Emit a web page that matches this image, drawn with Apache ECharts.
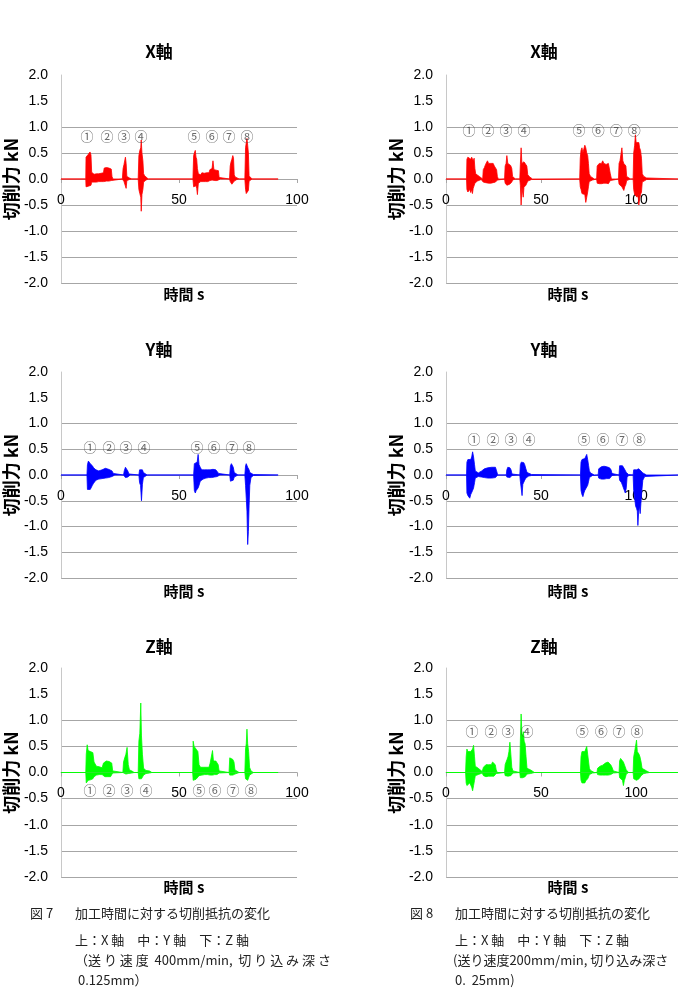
<!DOCTYPE html>
<html>
<head>
<meta charset="utf-8">
<script src="https://cdn.jsdelivr.net/npm/echarts@6/dist/echarts.min.js"></script>
<style>
  html, body { margin: 0; padding: 0; background: #fff; }
  #chart { width: 678px; height: 989px; }
</style>
</head>
<body>
<div id="chart"></div>
<script>
// 切削力の包絡線 [時間 s, 上側 kN, 下側 kN]
// 図7 (左列)
let sigX7 = [
  [0,0,0],[10.5,0,0],[10.6,0.42,-0.15],[11,0.45,-0.16],[11.5,0.47,-0.14],[12,0.48,-0.17],[12.3,0.52,-0.15],[12.7,0.46,-0.12],
  [13,0.13,-0.06],[13.5,0.1,-0.07],[14,0.09,-0.06],[14.5,0.11,-0.08],[15,0.1,-0.06],[15.5,0.12,-0.07],[16,0.1,-0.05],[16.5,0.13,-0.06],
  [17,0.11,-0.05],[17.5,0.14,-0.06],[18,0.12,-0.05],[18.3,0.21,-0.04],[18.8,0.2,-0.03],[19.3,0.22,-0.04],[19.8,0.19,-0.03],[20.3,0.21,-0.04],
  [20.8,0.2,-0.03],[21.3,0.19,-0.03],[21.6,0.05,-0.01],[22,0,0],
  [26,0,0],[26.3,0.2,-0.03],[26.7,0.28,-0.05],[27,0.3,-0.06],[27.3,0.42,-0.05],[27.6,0.3,-0.18],[27.9,0.05,-0.03],[28.5,0.03,-0.02],[29,0.02,-0.01],[30,0,0],
  [32.7,0,0],[33,0.45,-0.2],[33.4,0.55,-0.28],[33.8,0.6,-0.35],[34,0.75,-0.62],[34.3,0.5,-0.3],[34.7,0.35,-0.2],[35,0.1,-0.06],[35.5,0.06,-0.04],[36,0.04,-0.02],[37,0,0],
  [55.9,0,0],[56.2,0.45,-0.15],[56.5,0.5,-0.14],[56.9,0.55,-0.16],[57.2,0.42,-0.13],[57.5,0.38,-0.18],[57.8,0.2,-0.3],[58.2,0.1,-0.08],
  [58.7,0.1,-0.06],[59.2,0.08,-0.05],[59.7,0.12,-0.06],[60.2,0.1,-0.05],[60.7,0.11,-0.04],[61.2,0.09,-0.05],[61.7,0.12,-0.04],[62.2,0.1,-0.05],
  [62.7,0.12,-0.04],[63.1,0.18,-0.03],[63.5,0.17,-0.03],[64,0.2,-0.02],[64.4,0.35,-0.03],[64.8,0.18,-0.02],[65.2,0.19,-0.03],[65.7,0.17,-0.02],
  [66.2,0.18,-0.03],[66.7,0.16,-0.02],[67,0.03,-0.01],[67.5,0,0],
  [71.4,0,0],[71.7,0.25,-0.05],[72,0.32,-0.08],[72.4,0.38,-0.1],[72.8,0.45,-0.1],[73.1,0.4,-0.08],[73.4,0.08,-0.04],[73.8,0.04,-0.02],[74.5,0.02,-0.01],[75.5,0,0],
  [77.9,0,0],[78.2,0.6,-0.2],[78.5,0.7,-0.28],[78.8,0.78,-0.26],[79.1,0.65,-0.3],[79.4,0.5,-0.22],[79.7,0.06,-0.04],[80.2,0.03,-0.02],[81,0,0],
  [92,0,0]
];
let sigY7 = [
  [0,0,0],[11,0,0],[11.2,0.2,-0.28],[11.6,0.27,-0.3],[12,0.25,-0.3],[12.4,0.22,-0.28],[12.8,0.2,-0.25],[13.3,0.18,-0.2],[13.8,0.14,-0.16],
  [14.3,0.12,-0.13],[14.8,0.1,-0.1],[15.3,0.09,-0.09],[16,0.08,-0.08],[16.7,0.09,-0.07],[17.4,0.1,-0.07],[18.1,0.12,-0.06],[18.8,0.13,-0.06],
  [19.5,0.12,-0.05],[20.2,0.11,-0.05],[20.9,0.1,-0.04],[21.6,0.08,-0.03],[22.2,0.03,-0.01],[22.8,0,0],
  [26.5,0,0],[26.8,0.08,-0.03],[27.3,0.15,-0.05],[27.8,0.12,-0.05],[28.3,0.08,-0.04],[28.8,0.02,-0.01],[29.3,0,0],
  [33,0,0],[33.3,0.1,-0.15],[33.7,0.12,-0.2],[34.1,0.13,-0.5],[34.5,0.1,-0.18],[34.9,0.05,-0.05],[35.5,0.02,-0.02],[36.5,0,0],
  [56.2,0,0],[56.5,0.22,-0.3],[56.9,0.25,-0.35],[57.3,0.22,-0.3],[57.7,0.25,-0.28],[58.1,0.4,-0.25],[58.5,0.2,-0.2],[59,0.15,-0.12],
  [59.6,0.1,-0.1],[60.2,0.09,-0.08],[60.8,0.1,-0.07],[61.4,0.09,-0.06],[62,0.1,-0.06],[62.6,0.11,-0.05],[63.2,0.1,-0.05],[63.8,0.12,-0.05],
  [64.4,0.11,-0.04],[65,0.12,-0.04],[65.6,0.1,-0.03],[66.2,0.09,-0.03],[66.8,0.03,-0.01],[67.3,0,0],
  [71.5,0,0],[71.8,0.18,-0.12],[72.2,0.22,-0.15],[72.6,0.2,-0.15],[73,0.15,-0.1],[73.4,0.05,-0.04],[74,0.02,-0.01],[75,0,0],
  [77.9,0,0],[78.2,0.18,-0.2],[78.5,0.22,-0.45],[78.8,0.2,-0.7],[79.1,0.15,-1.35],[79.4,0.12,-1.1],[79.7,0.1,-0.6],[80,0.05,-0.2],[80.5,0.03,-0.05],[81.5,0.01,-0.01],[82,0,0],
  [92,0,0]
];
let sigZ7 = [
  [0,0,0],[10.5,0,0],[10.7,0.35,-0.2],[11.1,0.53,-0.18],[11.5,0.42,-0.15],[12,0.45,-0.16],[12.5,0.4,-0.14],[13,0.42,-0.12],[13.5,0.38,-0.12],
  [14,0.2,-0.08],[14.5,0.21,-0.06],[15,0.12,-0.05],[15.6,0.1,-0.05],[16.2,0.11,-0.04],[16.8,0.1,-0.05],[17.4,0.09,-0.04],[18,0.18,-0.07],
  [18.6,0.2,-0.08],[19.2,0.22,-0.07],[19.8,0.2,-0.08],[20.4,0.21,-0.07],[21,0.2,-0.08],[21.5,0.18,-0.06],[21.9,0.03,-0.01],[22.3,0,0],
  [26.2,0,0],[26.5,0.2,-0.02],[27,0.28,-0.03],[27.5,0.35,-0.03],[28,0.48,-0.03],[28.5,0.15,-0.02],[29,0.05,-0.01],[30,0.03,-0.01],[31,0,0],
  [32.7,0,0],[33,0.6,-0.12],[33.4,0.75,-0.15],[33.8,1.33,-0.15],[34.1,0.7,-0.12],[34.5,0.35,-0.1],[35,0.08,-0.05],[36,0.04,-0.02],[37.5,0.03,-0.01],[38.5,0,0],
  [55.8,0,0],[56,0.6,-0.15],[56.4,0.5,-0.16],[56.8,0.52,-0.15],[57.2,0.45,-0.13],[57.6,0.48,-0.15],[58,0.4,-0.12],[58.5,0.15,-0.06],
  [59.1,0.1,-0.05],[59.7,0.12,-0.05],[60.3,0.1,-0.05],[60.9,0.09,-0.04],[61.5,0.1,-0.05],[62.1,0.08,-0.04],[62.7,0.1,-0.04],[63.2,0.18,-0.05],
  [63.7,0.2,-0.05],[64.2,0.42,-0.05],[64.6,0.22,-0.05],[65.1,0.2,-0.04],[65.6,0.22,-0.05],[66.1,0.2,-0.04],[66.6,0.15,-0.03],[67,0.03,-0.01],[67.5,0,0],
  [71.2,0,0],[71.5,0.28,-0.05],[71.9,0.3,-0.06],[72.3,0.28,-0.05],[72.8,0.25,-0.05],[73.3,0.2,-0.04],[73.7,0.05,-0.03],[74.5,0.03,-0.02],[75.5,0,0],
  [77.9,0,0],[78.2,0.45,-0.12],[78.5,0.55,-0.15],[78.8,0.83,-0.14],[79.1,0.55,-0.15],[79.5,0.4,-0.12],[79.9,0.1,-0.05],[80.5,0.03,-0.02],[81.5,0,0],
  [92,0,0]
];
// 図8 (右列)
let sigX8 = [
  [0,0,0],[10.8,0,0],[11,0.38,-0.2],[11.5,0.42,-0.25],[12,0.4,-0.22],[12.5,0.43,-0.2],[13,0.38,-0.26],[13.5,0.42,-0.2],[13.9,0.4,-0.28],
  [14.3,0.35,-0.18],[14.8,0.4,-0.15],[15.2,0.2,-0.08],[15.6,0.1,-0.05],[16.5,0.08,-0.04],[17.5,0.05,-0.03],[18.5,0.02,-0.01],[19.3,0,0],
  [19.6,0.18,-0.06],[20.2,0.22,-0.08],[20.8,0.28,-0.07],[21.3,0.3,-0.09],[21.8,0.35,-0.08],[22.4,0.3,-0.08],[23,0.33,-0.07],[23.6,0.3,-0.08],
  [24.2,0.27,-0.09],[24.8,0.3,-0.07],[25.4,0.25,-0.08],[26,0.22,-0.06],[26.6,0.18,-0.05],[27,0.05,-0.02],[27.5,0,0],
  [30.8,0,0],[31.1,0.25,-0.08],[31.6,0.3,-0.1],[32,0.45,-0.12],[32.5,0.3,-0.1],[33,0.28,-0.12],[33.5,0.3,-0.1],[34,0.26,-0.08],[34.6,0.2,-0.06],[35,0.05,-0.02],[36,0.02,-0.01],[36.5,0,0],
  [38.8,0,0],[39.1,0.28,-0.12],[39.5,0.6,-0.5],[39.9,0.3,-0.15],[40.3,0.32,-0.14],[40.6,0.3,-0.35],[41,0.33,-0.16],[41.5,0.3,-0.14],[42,0.32,-0.12],
  [42.5,0.25,-0.1],[43,0.08,-0.04],[44,0.04,-0.02],[45,0.02,-0.01],[45.5,0,0],
  [70.3,0,0],[70.6,0.4,-0.15],[71,0.55,-0.2],[71.5,0.6,-0.28],[72,0.5,-0.3],[72.5,0.58,-0.25],[73,0.65,-0.3],[73.5,0.6,-0.45],[74,0.5,-0.35],
  [74.5,0.45,-0.25],[74.9,0.3,-0.15],[75.3,0.1,-0.05],[76,0.05,-0.03],[77,0.03,-0.02],[78,0,0],
  [79.2,0,0],[79.5,0.25,-0.08],[80,0.28,-0.08],[80.6,0.3,-0.09],[81.2,0.28,-0.08],[81.8,0.3,-0.09],[82.4,0.35,-0.08],[83,0.3,-0.08],[83.6,0.32,-0.09],
  [84.2,0.28,-0.08],[84.8,0.3,-0.08],[85.4,0.3,-0.09],[86,0.27,-0.07],[86.4,0.1,-0.03],[87,0,0],
  [90.7,0,0],[91,0.3,-0.1],[91.5,0.35,-0.12],[92,0.33,-0.13],[92.5,0.6,-0.15],[93,0.35,-0.18],[93.5,0.3,-0.22],[94,0.32,-0.15],[94.6,0.25,-0.1],[95,0.05,-0.03],[96,0.02,-0.01],[97,0,0],
  [98.4,0,0],[98.7,0.5,-0.2],[99.2,0.65,-0.3],[99.6,0.85,-0.32],[100,0.7,-0.3],[100.5,0.72,-0.35],[101,0.68,-0.3],[101.4,0.7,-0.5],[101.8,0.6,-0.38],
  [102.3,0.55,-0.3],[102.8,0.4,-0.25],[103.2,0.1,-0.06],[104,0.05,-0.03],[105.5,0.02,-0.01],[106,0,0],
  [122,0,0]
];
let sigY8 = [
  [0,0,0],[10.8,0,0],[11,0.25,-0.35],[11.5,0.3,-0.4],[12,0.28,-0.42],[12.5,0.32,-0.45],[13,0.3,-0.38],[13.5,0.35,-0.35],[14,0.45,-0.3],
  [14.5,0.35,-0.25],[15,0.2,-0.15],[15.4,0.08,-0.06],[16,0.05,-0.04],[17,0.04,-0.03],[18,0.03,-0.02],[18.8,0.08,-0.04],[19.5,0.1,-0.05],
  [20.2,0.12,-0.05],[21,0.13,-0.05],[22,0.14,-0.06],[23,0.15,-0.05],[24,0.15,-0.06],[25,0.14,-0.05],[26,0.15,-0.05],[26.6,0.08,-0.03],[27.2,0,0],
  [31.7,0,0],[32,0.1,-0.04],[32.5,0.15,-0.05],[33,0.18,-0.05],[33.6,0.14,-0.05],[34.2,0.1,-0.04],[34.7,0.02,-0.01],[35.2,0,0],
  [38.8,0,0],[39.1,0.2,-0.12],[39.6,0.25,-0.15],[40,0.27,-0.4],[40.4,0.25,-0.18],[40.9,0.24,-0.14],[41.4,0.2,-0.1],[42,0.12,-0.06],[42.6,0.05,-0.03],[43.5,0.03,-0.02],[45,0.01,-0.01],[46,0,0],
  [70.7,0,0],[71,0.25,-0.3],[71.5,0.3,-0.38],[72,0.28,-0.42],[72.5,0.3,-0.35],[73,0.32,-0.3],[73.5,0.35,-0.32],[74,0.4,-0.28],[74.5,0.3,-0.2],
  [75,0.18,-0.12],[75.4,0.08,-0.05],[76,0.04,-0.03],[77,0.02,-0.01],[78,0,0],
  [80,0,0],[80.3,0.12,-0.06],[81,0.15,-0.08],[81.7,0.16,-0.08],[82.4,0.15,-0.07],[83.1,0.17,-0.08],[83.8,0.15,-0.08],[84.5,0.16,-0.07],[85.2,0.15,-0.08],
  [86,0.14,-0.07],[86.8,0.1,-0.05],[87.3,0.03,-0.01],[87.8,0,0],
  [91,0,0],[91.3,0.18,-0.1],[91.8,0.2,-0.12],[92.3,0.2,-0.15],[92.8,0.18,-0.2],[93.3,0.15,-0.25],[93.8,0.12,-0.3],[94.3,0.1,-0.35],[94.8,0.05,-0.25],[95.2,0.03,-0.05],[96,0.01,-0.01],[96.5,0,0],
  [98.4,0,0],[98.7,0.1,-0.3],[99.2,0.12,-0.45],[99.7,0.12,-0.6],[100.2,0.1,-0.65],[100.6,0.12,-0.7],[100.9,0.1,-0.98],[101.3,0.12,-0.72],[101.7,0.1,-0.6],
  [102.1,0.1,-0.75],[102.5,0.08,-0.55],[103,0.06,-0.3],[103.5,0.04,-0.1],[104.5,0.02,-0.03],[105.5,0,0],
  [122,0,0]
];
let sigZ8 = [
  [0,0,0],[10.3,0,0],[10.6,0.3,-0.2],[11,0.45,-0.25],[11.5,0.4,-0.22],[12,0.38,-0.25],[12.5,0.42,-0.2],[13,0.4,-0.22],[13.5,0.38,-0.28],
  [14,0.45,-0.35],[14.5,0.52,-0.25],[15,0.3,-0.15],[15.4,0.12,-0.06],[16,0.1,-0.05],[17,0.08,-0.04],[18,0.05,-0.03],[19,0.02,-0.01],[19.4,0,0],
  [19.7,0.1,-0.06],[20.3,0.12,-0.07],[21,0.15,-0.08],[21.7,0.13,-0.08],[22.4,0.15,-0.07],[23.1,0.18,-0.08],[23.8,0.15,-0.07],[24.5,0.2,-0.08],
  [25.2,0.17,-0.07],[25.9,0.15,-0.06],[26.4,0.05,-0.02],[27,0,0],
  [30.8,0,0],[31.1,0.15,-0.06],[31.6,0.2,-0.08],[32.1,0.25,-0.08],[32.6,0.3,-0.07],[33.1,0.4,-0.08],[33.6,0.58,-0.08],[34.1,0.35,-0.06],[34.6,0.1,-0.04],[35.2,0.03,-0.01],[35.8,0,0],
  [38.8,0,0],[39.1,0.6,-0.1],[39.5,1.12,-0.1],[39.9,0.75,-0.1],[40.3,0.7,-0.1],[40.7,0.78,-0.08],[41.1,0.6,-0.1],[41.6,0.55,-0.08],[42.1,0.3,-0.05],
  [42.6,0.08,-0.03],[43.5,0.06,-0.02],[44.5,0.05,-0.02],[45.5,0.02,-0.01],[46.5,0,0],
  [70.7,0,0],[71,0.3,-0.15],[71.5,0.4,-0.2],[72,0.38,-0.2],[72.5,0.42,-0.18],[73,0.4,-0.2],[73.5,0.38,-0.16],[74,0.5,-0.15],[74.5,0.35,-0.12],
  [75,0.2,-0.08],[75.4,0.08,-0.04],[76,0.04,-0.02],[77,0.02,-0.01],[78,0,0],
  [79.4,0,0],[79.7,0.08,-0.04],[80.3,0.1,-0.05],[81,0.12,-0.05],[81.7,0.12,-0.06],[82.4,0.14,-0.05],[83.1,0.15,-0.06],[83.8,0.18,-0.05],[84.5,0.2,-0.06],
  [85.2,0.2,-0.05],[85.9,0.18,-0.05],[86.6,0.15,-0.04],[87.3,0.1,-0.03],[88,0.03,-0.01],[88.5,0,0],
  [91,0,0],[91.3,0.22,-0.1],[91.8,0.27,-0.12],[92.3,0.25,-0.12],[92.8,0.27,-0.15],[93.3,0.2,-0.25],[93.8,0.22,-0.15],[94.3,0.2,-0.1],[94.8,0.05,-0.03],[95.5,0.02,-0.01],[96,0,0],
  [98.4,0,0],[98.7,0.3,-0.12],[99.2,0.4,-0.15],[99.7,0.38,-0.14],[100.2,0.62,-0.15],[100.6,0.4,-0.15],[101,0.38,-0.13],[101.5,0.35,-0.12],[102,0.3,-0.1],
  [102.6,0.2,-0.06],[103.1,0.08,-0.04],[104,0.05,-0.02],[105.5,0.03,-0.01],[107,0,0],
  [122,0,0]
];

// 丸数字の位置 [時間, kN]
let circled = ["①", "②", "③", "④", "⑤", "⑥", "⑦", "⑧"];
let numX7 = [[11,0.83],[19.5,0.83],[26.7,0.83],[33.9,0.83],[56.4,0.83],[64,0.83],[71.2,0.83],[78.8,0.83]];
let numY7 = [[12.3,0.54],[20.3,0.54],[27.5,0.54],[35.2,0.54],[57.6,0.54],[64.8,0.54],[72.5,0.54],[79.7,0.54]];
let numZ7 = [[12.3,-0.33],[20.3,-0.33],[28,-0.33],[36,-0.33],[58.5,-0.33],[65.3,-0.33],[72.9,-0.33],[80.5,-0.33]];
let numX8 = [[12.1,0.94],[22.1,0.94],[31.6,0.94],[41,0.94],[70,0.94],[80,0.94],[89.5,0.94],[99,0.94]];
let numY8 = [[14.7,0.69],[24.7,0.69],[34.2,0.69],[43.7,0.69],[72.6,0.69],[82.6,0.69],[92.6,0.69],[101.6,0.69]];
let numZ8 = [[13.7,0.79],[23.7,0.79],[32.6,0.79],[42.6,0.79],[71.6,0.79],[81.6,0.79],[91,0.79],[100.5,0.79]];

let xMax = [100, 122];

let panels = [
  { sig: sigX7, num: numX7, color: "#ff0000", title: "X軸", col: 0, row: 0 },
  { sig: sigY7, num: numY7, color: "#0000ff", title: "Y軸", col: 0, row: 1 },
  { sig: sigZ7, num: numZ7, color: "#00ff00", title: "Z軸", col: 0, row: 2 },
  { sig: sigX8, num: numX8, color: "#ff0000", title: "X軸", col: 1, row: 0 },
  { sig: sigY8, num: numY8, color: "#0000ff", title: "Y軸", col: 1, row: 1 },
  { sig: sigZ8, num: numZ8, color: "#00ff00", title: "Z軸", col: 1, row: 2 },
];

let latin = "'Liberation Sans', sans-serif";
let cjk = "'Noto Sans CJK JP', sans-serif";

let gridLeft = [61, 446];
let gridWidth = [236, 232];
let gridTop = [75, 372, 668];
let gridHeight = [208, 206, 209];
let titleX = [159, 544];
let titleY = [52, 350, 647];
let nameX = [184, 568];
let nameY = [294, 591, 887];

// 1.5 と 2.0 の目盛線は元の図に無い
let splitColors = ["#a6a6a6","#a6a6a6","#a6a6a6","#a6a6a6","#a6a6a6","#a6a6a6","#a6a6a6","rgba(0,0,0,0)","rgba(0,0,0,0)"];

let grids = [], xAxes = [], yAxes = [], series = [], graphics = [];

panels.forEach(function (p, i) {
  grids.push({ left: gridLeft[p.col], width: gridWidth[p.col], top: gridTop[p.row], height: gridHeight[p.row] });
  // y は -2〜2 で対称なので、x軸を高さの半分だけ上げると 0 の位置になる
  xAxes.push({
    gridIndex: i, type: "value", min: 0, max: xMax[p.col], interval: 50,
    position: "bottom", offset: -gridHeight[p.row] / 2,
    axisLine: { onZero: false, lineStyle: { color: "#a6a6a6", width: 1 } },
    axisTick: { show: true, length: 4, lineStyle: { color: "#a6a6a6" } },
    axisLabel: { margin: 14, color: "#000", fontSize: 14, fontFamily: latin, showMaxLabel: p.col === 0 },
    splitLine: { show: false },
  });
  yAxes.push({
    gridIndex: i, type: "value", min: -2, max: 2, interval: 0.5,
    axisLine: { show: true, onZero: false, lineStyle: { color: "#c8c8c8", width: 1 } },
    axisTick: { show: false },
    axisLabel: { margin: 13, color: "#000", fontSize: 14, fontFamily: latin, formatter: function (v) { return v.toFixed(1); } },
    splitLine: { show: true, lineStyle: { color: splitColors, width: 1 } },
    name: "切削力 kN", nameLocation: "middle", nameGap: 40,
    nameTextStyle: { color: "#000", fontSize: 18, fontWeight: "bold", fontFamily: cjk },
  });
  // 上側・下側の包絡線を0から塗る
  series.push({
    type: "line", xAxisIndex: i, yAxisIndex: i, symbol: "none", silent: true,
    data: p.sig.map(function (r) { return [r[0], r[1]]; }),
    lineStyle: { color: p.color, width: 0.8 },
    areaStyle: { color: p.color, opacity: 1 },
  });
  series.push({
    type: "line", xAxisIndex: i, yAxisIndex: i, symbol: "none", silent: true,
    data: p.sig.map(function (r) { return [r[0], r[2]]; }),
    lineStyle: { color: p.color, width: 0.8 },
    areaStyle: { color: p.color, opacity: 1 },
  });
  series.push({
    type: "scatter", xAxisIndex: i, yAxisIndex: i, symbolSize: 1, silent: true,
    itemStyle: { color: "rgba(0,0,0,0)" },
    data: p.num.map(function (q, k) { return { value: q, name: circled[k] }; }),
    label: { show: true, position: "inside", formatter: "{b}", color: "#444", fontSize: 13, fontFamily: cjk },
    z: 5,
  });
  graphics.push({
    type: "text", x: titleX[p.col], y: titleY[p.row],
    style: { text: p.title, font: "bold 17px " + cjk, fill: "#000", align: "center", verticalAlign: "middle" },
  });
  graphics.push({
    type: "text", x: nameX[p.col], y: nameY[p.row],
    style: { text: "時間 s", font: "bold 15px " + cjk, fill: "#000", align: "center", verticalAlign: "middle" },
  });
});

// 図の説明文
let captions = [
  [30, 913, "図 7"], [75, 913, "加工時間に対する切削抵抗の変化"],
  [75, 940, "上：X 軸　中：Y 軸　下：Z 軸"],
  [75, 960, "（送 り 速 度  400mm/min,  切 り 込 み 深 さ"],
  [78, 980, "0.125mm）"],
  [410, 913, "図 8"], [455, 913, "加工時間に対する切削抵抗の変化"],
  [455, 940, "上：X 軸　中：Y 軸　下：Z 軸"],
  [453, 960, "(送り速度200mm/min, 切り込み深さ"],
  [455, 980, "0.  25mm)"],
];
captions.forEach(function (c) {
  graphics.push({
    type: "text", x: c[0], y: c[1],
    style: { text: c[2], font: "13px " + cjk, fill: "#222", align: "left", verticalAlign: "middle" },
  });
});

let chart = echarts.init(document.getElementById("chart"));
chart.setOption({
  animation: false,
  backgroundColor: "#fff",
  grid: grids,
  xAxis: xAxes,
  yAxis: yAxes,
  series: series,
  graphic: graphics,
});
</script>
</body>
</html>
